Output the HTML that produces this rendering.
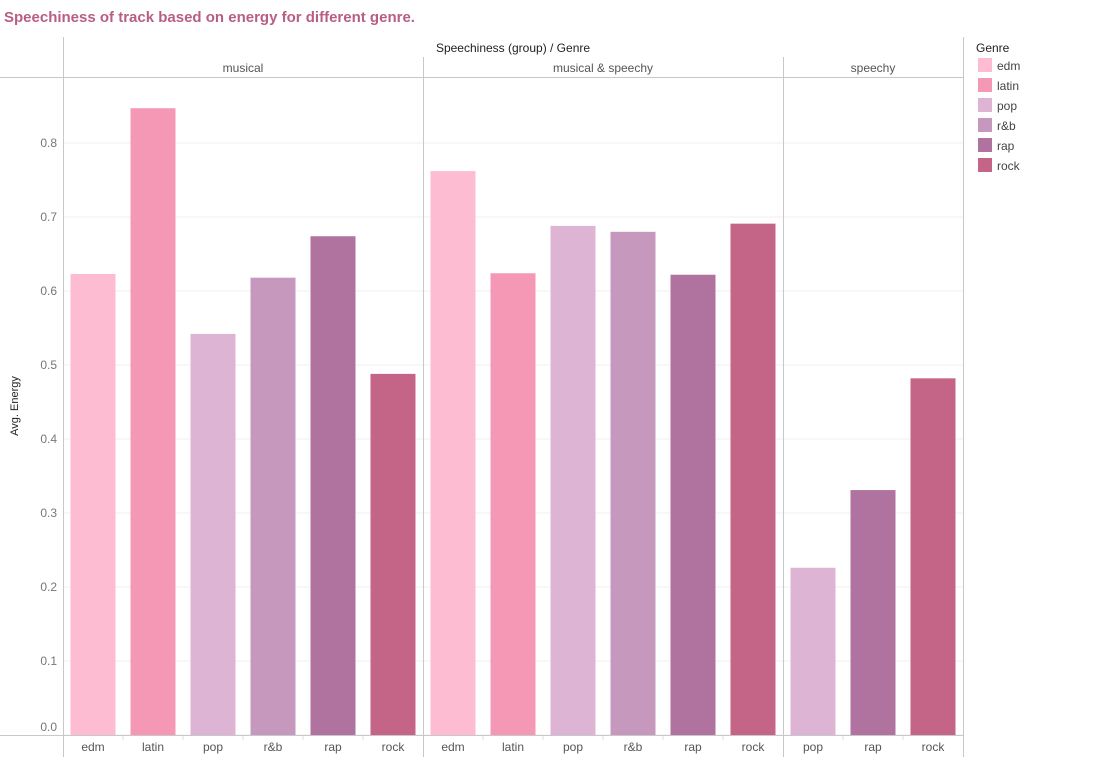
<!DOCTYPE html>
<html><head><meta charset="utf-8"><style>
body{margin:0;background:#fff;font-family:"Liberation Sans",sans-serif;}
</style></head><body>
<svg id="chart" width="1115" height="757" xmlns="http://www.w3.org/2000/svg">
<text x="4" y="22" font-size="15" font-weight="bold" fill="#b85e85">Speechiness of track based on energy for different genre.</text>
<text x="513" y="52" font-size="12" fill="#222" text-anchor="middle">Speechiness (group)  /  Genre</text>
<text x="18" y="406" font-size="11" fill="#222" text-anchor="middle" transform="rotate(-90 18 406)">Avg. Energy</text>
<g id="grid"></g><g id="bars"></g><g id="frame"></g>
<text x="976" y="52" font-size="12" fill="#222">Genre</text>
<g id="legend"></g>
</svg>
<script>
const genres=["edm","latin","pop","r&b","rap","rock"];
const colors=["#fdbcd2","#f498b6","#ddb4d4","#c798be","#b073a0","#c46487"];
const groups=["musical","musical & speechy","speechy"];
const groupGenres=[["edm","latin","pop","r&b","rap","rock"],["edm","latin","pop","r&b","rap","rock"],["pop","rap","rock"]];
const musicalVals=[0.623,0.847,0.542,0.618,0.674,0.488];
const musSpeechyVals=[0.762,0.624,0.688,0.680,0.622,0.691];
const speechyVals=[0.226,0.331,0.482];
const yTicks=[0,0.1,0.2,0.3,0.4,0.5,0.6,0.7,0.8];
const vals=[musicalVals,musSpeechyVals,speechyVals];
const NS="http://www.w3.org/2000/svg";
function y(v){return 735-v*740;}
const colW=60,x0=63;
function mk(tag,at,parent,txt){const e=document.createElementNS(NS,tag);for(const k in at)e.setAttribute(k,at[k]);if(txt!==undefined)e.textContent=txt;document.getElementById(parent).appendChild(e);return e;}
yTicks.forEach(t=>{
 const l=mk("line",{x1:63,x2:963,y1:y(t),y2:y(t),stroke:"#efefef"},"grid");
 
 
 const ly=t===0?y(t)-4:y(t)+4;
 const tx=mk("text",{x:57,y:ly,"font-size":12,fill:"#777","text-anchor":"end"},"grid",t.toFixed(1));
 
 
});
let col=0;
groups.forEach((g,gi)=>{
 const start=col;
 groupGenres[gi].forEach((gen,i)=>{
  const cx=x0+col*colW+30;
  const v=vals[gi][i];
  const r=mk("rect",{x:cx-22.5,y:y(v),width:45,height:735-y(v),fill:colors[genres.indexOf(gen)]},"bars");
  
  
  const t=mk("text",{x:cx,y:751,"font-size":12,fill:"#555","text-anchor":"middle"},"bars",gen);
  
  
  if(i>0){const d=mk("line",{x1:x0+col*colW,x2:x0+col*colW,y1:735,y2:740,stroke:"#ddd"},"frame");
   
   }
  col++;
 });
 const sx=x0+start*colW,ex=x0+col*colW;
 const h=mk("text",{x:(sx+ex)/2,y:72,"font-size":12,fill:"#555","text-anchor":"middle"},"frame",g);
 
 
 if(gi>0){const dl=mk("line",{x1:sx+0.5,x2:sx+0.5,y1:57,y2:757,stroke:"#c8c8c8"},"frame");
  
  }
});
[[63.5,63.5,37,757],[963.5,963.5,37,757],[0,963,77.5,77.5],[0,963,735.5,735.5]].forEach(a=>{
 const l=mk("line",{x1:a[0],x2:a[1],y1:a[2],y2:a[3],stroke:"#c8c8c8"},"frame");
 
 
});
genres.forEach((g,i)=>{
 const r=mk("rect",{x:978,y:58+i*20,width:14,height:14,fill:colors[i]},"legend");
 
 
 const t=mk("text",{x:997,y:70+i*20,"font-size":12,fill:"#444"},"legend",g);
 
 
});
</script>
</body></html>
